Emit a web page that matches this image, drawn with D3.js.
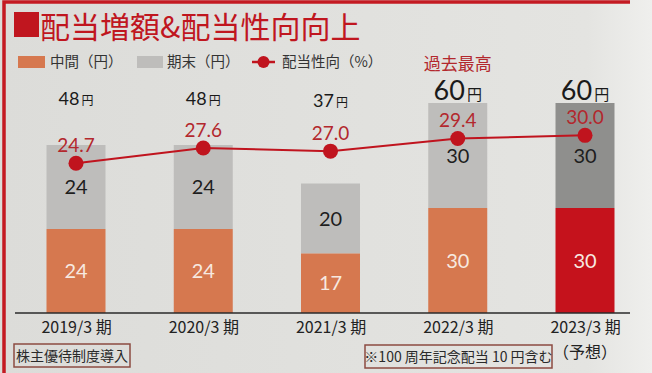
<!DOCTYPE html>
<html>
<head>
<meta charset="utf-8">
<script src="https://cdn.jsdelivr.net/npm/d3@7"></script>
<style>
  body { margin: 0; background: #e1e1de; }
  svg { display: block; font-family: "Noto Sans CJK JP", "Noto Sans", sans-serif; }
</style>
</head>
<body>
<div id="chart"></div>
<script>
const w = 652;
const h = 373;

// data
const periods = ['2019/3 期', '2020/3 期', '2021/3 期', '2022/3 期', '2023/3 期'];
const interim = [24, 24, 17, 30, 30];   // 中間（円）
const yearEnd = [24, 24, 20, 30, 30];   // 期末（円）
const payout = [24.7, 27.6, 27.0, 29.4, 30.0]; // 配当性向（%）
const totals = [48, 48, 37, 60, 60];

const orange = '#d6784f';
const grey = '#bebdbb';
const greyDark = '#8f8f8d';
const redBar = '#c5121c';
const red = '#c0141e';
const redText = '#b3282d';
const numFont = 'Lato, "Noto Sans", sans-serif';

const svg = d3.select('#chart')
  .append('svg')
  .attr('width', w)
  .attr('height', h);

// background with slight light area on the right edge
const grad = svg.append('defs').append('linearGradient')
  .attr('id', 'bg').attr('x1', 0).attr('x2', 1).attr('y1', 0).attr('y2', 0);
grad.append('stop').attr('offset', '0%').attr('stop-color', '#dcdcd9');
grad.append('stop').attr('offset', '90%').attr('stop-color', '#e4e4e1');
grad.append('stop').attr('offset', '100%').attr('stop-color', '#efefed');
svg.append('rect').attr('width', w).attr('height', h).attr('fill', 'url(#bg)');

// red frame
svg.append('path')
  .attr('d', 'M4,373 L4,2 L630,2')
  .attr('fill', 'none')
  .attr('stroke', '#c41a22')
  .attr('stroke-width', 3.5);

// title
svg.append('rect').attr('x', 14).attr('y', 12).attr('width', 25).attr('height', 25).attr('fill', '#c0161f');
svg.append('text')
  .attr('x', 40).attr('y', 38)
  .attr('font-size', 30)
  .attr('fill', '#c0161f')
  .text('配当増額&配当性向向上');

// legend
const lg = svg.append('g').attr('font-size', 14.5).attr('fill', '#333');
lg.append('rect').attr('x', 18).attr('y', 56).attr('width', 27).attr('height', 12).attr('fill', orange);
lg.append('text').attr('x', 50).attr('y', 67).text('中間（円）');
lg.append('rect').attr('x', 137).attr('y', 56).attr('width', 26).attr('height', 12).attr('fill', grey);
lg.append('text').attr('x', 167).attr('y', 67).text('期末（円）');
lg.append('line').attr('x1', 252).attr('x2', 275).attr('y1', 62).attr('y2', 62).attr('stroke', red).attr('stroke-width', 2.5);
lg.append('circle').attr('cx', 263.5).attr('cy', 62).attr('r', 6).attr('fill', red);
lg.append('text').attr('x', 282).attr('y', 67).text('配当性向（%）');

// scales
const baseY = 313;
const x = d3.scalePoint().domain(periods).range([76, 585]);
const barW = 59;
const y = d3.scaleLinear().domain([0, 60]).range([baseY, 103]);
const yPct = d3.scaleLinear().domain([20, 35]).range([188, 109]);

const rows = periods.map((p, i) => ({ p, i, a: interim[i], b: yearEnd[i], pct: payout[i], t: totals[i] }));

// bars
const bars = svg.append('g');
bars.selectAll('rect.end')
  .data(rows).enter().append('rect')
  .attr('x', d => x(d.p) - barW / 2)
  .attr('y', d => y(d.a + d.b))
  .attr('width', barW)
  .attr('height', d => y(d.a) - y(d.a + d.b))
  .attr('fill', d => d.i === 4 ? greyDark : grey);
bars.selectAll('rect.mid')
  .data(rows).enter().append('rect')
  .attr('x', d => x(d.p) - barW / 2)
  .attr('y', d => y(d.a))
  .attr('width', barW)
  .attr('height', d => baseY - y(d.a))
  .attr('fill', d => d.i === 4 ? redBar : orange);

// segment labels
svg.append('g').selectAll('text')
  .data(rows).enter().append('text')
  .attr('x', d => x(d.p))
  .attr('y', d => (y(d.a) + y(d.a + d.b)) / 2 + 7)
  .attr('text-anchor', 'middle')
  .attr('font-family', numFont)
  .attr('font-size', 20)
  .attr('fill', '#1e1e1e')
  .text(d => d.b);
svg.append('g').selectAll('text')
  .data(rows).enter().append('text')
  .attr('x', d => x(d.p))
  .attr('y', d => (baseY + y(d.a)) / 2 + 7)
  .attr('text-anchor', 'middle')
  .attr('font-family', numFont)
  .attr('font-size', 20)
  .attr('fill', '#f7e9e0')
  .text(d => d.a);

// axis line
svg.append('line')
  .attr('x1', 15).attr('x2', 630)
  .attr('y1', baseY).attr('y2', baseY)
  .attr('stroke', '#2a2a2a').attr('stroke-width', 1.6);

// category labels
const xAxis = d3.axisBottom(x).tickSize(0).tickPadding(9);
const gx = svg.append('g')
  .attr('transform', 'translate(0,' + baseY + ')')
  .call(xAxis);
gx.select('.domain').remove();
gx.selectAll('text')
  .attr('font-size', 16)
  .attr('font-family', '"Noto Sans CJK JP", sans-serif')
  .attr('fill', '#222');
svg.append('text')
  .attr('x', x(periods[4])).attr('y', 358)
  .attr('text-anchor', 'middle')
  .attr('font-size', 16).attr('fill', '#222')
  .text('（予想）');

// totals (fixed row above the chart)
const tot = svg.append('g').selectAll('text')
  .data(rows).enter().append('text')
  .attr('x', d => x(d.p))
  .attr('y', d => d.t === 60 ? 100 : (d.i === 2 ? 107 : 105))
  .attr('text-anchor', 'middle')
  .attr('fill', '#1a1a1a');
tot.append('tspan')
  .attr('font-family', numFont)
  .attr('font-size', d => d.t === 60 ? 27 : 18)
  .text(d => d.t);
tot.append('tspan')
  .attr('dx', 2)
  .attr('font-size', d => d.t === 60 ? 15 : 12)
  .text('円');

svg.append('text')
  .attr('x', x(periods[3])).attr('y', 70)
  .attr('text-anchor', 'middle')
  .attr('font-size', 17).attr('fill', redText)
  .text('過去最高');

// payout line
const line = d3.line().x(d => x(d.p)).y(d => yPct(d.pct));
svg.append('path')
  .datum(rows)
  .attr('d', line)
  .attr('fill', 'none')
  .attr('stroke', red)
  .attr('stroke-width', 2);
svg.append('g').selectAll('circle')
  .data(rows).enter().append('circle')
  .attr('cx', d => x(d.p))
  .attr('cy', d => yPct(d.pct))
  .attr('r', 7.5)
  .attr('fill', red);
svg.append('g').selectAll('text')
  .data(rows).enter().append('text')
  .attr('x', d => x(d.p))
  .attr('y', d => yPct(d.pct) - 11)
  .attr('text-anchor', 'middle')
  .attr('font-family', numFont)
  .attr('font-size', 19)
  .attr('fill', redText)
  .text(d => d3.format('.1f')(d.pct));

// notes
function note(x0, y0, bw, bh, txt) {
  svg.append('rect')
    .attr('x', x0).attr('y', y0).attr('width', bw).attr('height', bh)
    .attr('fill', 'none').attr('stroke', '#8c4b42').attr('stroke-width', 1.5);
  svg.append('text')
    .attr('x', x0 + bw / 2).attr('y', y0 + bh / 2 + 5)
    .attr('text-anchor', 'middle')
    .attr('font-size', 14).attr('fill', '#2a2a2a')
    .text(txt);
}
note(14, 344, 116, 23, '株主優待制度導入');
note(365, 345, 187, 23, '※100 周年記念配当 10 円含む');
</script>
</body>
</html>
